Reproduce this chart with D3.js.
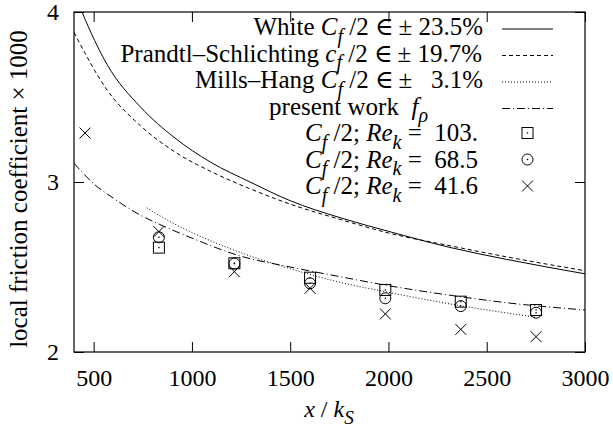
<!DOCTYPE html>
<html>
<head>
<meta charset="utf-8">
<script src="https://cdn.jsdelivr.net/npm/d3@7"></script>
<style>
  html, body { margin: 0; padding: 0; background: #fff; }
  svg text { font-family: "Liberation Serif", "DejaVu Serif", serif; white-space: pre; }
</style>
</head>
<body>
<svg id="chart" width="613" height="432"></svg>
<script>
// ---------------- data ----------------
const xTicks = [500, 1000, 1500, 2000, 2500, 3000];
const yTicks = [2, 3, 4];

// White C_f/2 (solid)
const whiteX = [420, 441, 569, 739, 909, 1096, 1296, 1500, 1754, 2000, 2313, 2600, 3000];
const whiteY = [4.06, 4.0, 3.69, 3.44, 3.263, 3.116, 3.0, 2.89, 2.79, 2.71, 2.615, 2.545, 2.46];

// Prandtl–Schlichting (dashed)
const prandtlX = [400, 569, 739, 909, 1100, 1296, 1500, 1754, 2000, 2313, 2600, 3000];
const prandtlY = [3.88, 3.54, 3.33, 3.18, 3.06, 2.96, 2.87, 2.78, 2.70, 2.625, 2.56, 2.478];

// Mills–Hang (dotted)
const millsX = [770, 900, 1000, 1245, 1500, 1754, 2000, 2368, 2755];
const millsY = [2.848, 2.76, 2.703, 2.586, 2.49, 2.41, 2.351, 2.272, 2.204];

// present work f_rho (dash-dot)
const presentX = [400, 500, 600, 736, 837, 1000, 1245, 1500, 1754, 2000, 2368, 2600, 3000];
const presentY = [3.11, 2.99, 2.905, 2.806, 2.75, 2.67, 2.565, 2.50, 2.443, 2.39, 2.325, 2.29, 2.247];

// measured points
const re103X = [832, 1216, 1601, 1984, 2368, 2751];
const re103Y = [2.614, 2.522, 2.437, 2.365, 2.296, 2.247];
const re685X = [832, 1216, 1601, 1984, 2368, 2751];
const re685Y = [2.675, 2.52, 2.404, 2.316, 2.27, 2.231];
const re416X = [456, 832, 1216, 1601, 1984, 2368, 2751];
const re416Y = [3.288, 2.708, 2.472, 2.375, 2.224, 2.133, 2.09];

const xLabel = [{t: "x", it: true}, {t: " / "}, {t: "k", it: true}, {t: "S", it: true, sub: true}];
const yLabel = "local friction coefficient × 1000";

const legendLines = [
  [{t: "White "}, {t: "C", it: true}, {t: "f", it: true, sub: true}, {t: " /2 ∈\u2009± 23.5%"}],
  [{t: "Prandtl–Schlichting "}, {t: "c", it: true}, {t: "f", it: true, sub: true}, {t: " /2 ∈\u2009± 19.7%"}],
  [{t: "Mills–Hang "}, {t: "C", it: true}, {t: "f", it: true, sub: true}, {t: " /2 ∈\u2009±   3.1%"}],
  [{t: "present work  "}, {t: "f", it: true}, {t: "ρ", it: true, sub: true}]
];
const legendPoints = [
  [{t: "C", it: true}, {t: "f", it: true, sub: true}, {t: " /2; "}, {t: "Re", it: true}, {t: "k", it: true, sub: true}, {t: " =  103."}],
  [{t: "C", it: true}, {t: "f", it: true, sub: true}, {t: " /2; "}, {t: "Re", it: true}, {t: "k", it: true, sub: true}, {t: " =  68.5"}],
  [{t: "C", it: true}, {t: "f", it: true, sub: true}, {t: " /2; "}, {t: "Re", it: true}, {t: "k", it: true, sub: true}, {t: " =  41.6"}]
];

// ---------------- layout ----------------
const L = 74, R = 585, T = 12, B = 352;
const FS = 24, LFS = 25, YFS = 25;
const svg = d3.select("#chart");
const x = d3.scaleLinear().domain([400, 3000]).range([L, R]);
const y = d3.scaleLinear().domain([2, 4]).range([B, T]);

svg.append("defs").append("clipPath").attr("id", "clip")
  .append("rect").attr("x", L).attr("y", T).attr("width", R - L).attr("height", B - T);

function rich(sel, parts, size) {
  let shifted = 0;
  parts.forEach(p => {
    const ts = sel.append("tspan").text(p.t);
    if (p.it) ts.attr("font-style", "italic");
    const want = p.sub ? size * 0.3 : 0;
    if (want !== shifted) { ts.attr("dy", want - shifted); shifted = want; }
    if (p.sub) ts.attr("font-size", size * 0.8);
  });
}

// axes (ticks inward, mirrored)
const tick = 10;
const gB = svg.append("g").attr("transform", `translate(0,${B})`)
  .call(d3.axisBottom(x).tickValues(xTicks).tickSize(-tick).tickFormat(d3.format("d")));
const gT = svg.append("g").attr("transform", `translate(0,${T})`)
  .call(d3.axisTop(x).tickValues(xTicks).tickSize(-tick).tickFormat(""));
const gL = svg.append("g").attr("transform", `translate(${L},0)`)
  .call(d3.axisLeft(y).tickValues(yTicks).tickSize(-tick).tickFormat(d3.format("d")));
const gR = svg.append("g").attr("transform", `translate(${R},0)`)
  .call(d3.axisRight(y).tickValues(yTicks).tickSize(-tick).tickFormat(""));
[gB, gT, gL, gR].forEach(g => {
  g.select(".domain").remove();
  g.selectAll(".tick line").attr("stroke", "#000").attr("stroke-width", 1);
  g.selectAll("text").attr("font-family", "Liberation Serif").attr("font-size", FS).attr("fill", "#000");
});
gB.selectAll("text").attr("y", 34).attr("dy", 0);
gL.selectAll("text").attr("x", -15).attr("dy", "0.33em");

// frame
svg.append("rect").attr("x", L).attr("y", T).attr("width", R - L).attr("height", B - T)
  .attr("fill", "none").attr("stroke", "#000").attr("stroke-width", 1.2);

// axis labels
const xl = svg.append("text").attr("x", 329).attr("y", 417)
  .attr("text-anchor", "middle").attr("font-size", FS);
rich(xl, xLabel, FS);
svg.append("text").attr("transform", `translate(27,189) rotate(-90)`)
  .attr("text-anchor", "middle").attr("font-size", YFS).text(yLabel);

// curves
const curves = [
  {xs: whiteX, ys: whiteY, dash: null},
  {xs: prandtlX, ys: prandtlY, dash: "4,3"},
  {xs: millsX, ys: millsY, dash: "1,2"},
  {xs: presentX, ys: presentY, dash: "8,3,1,3"}
];
const line = d3.line().x(d => x(d[0])).y(d => y(d[1])).curve(d3.curveMonotoneX);
const plot = svg.append("g").attr("clip-path", "url(#clip)");
curves.forEach(c => {
  plot.append("path").datum(c.xs.map((v, i) => [v, c.ys[i]]))
    .attr("d", line).attr("fill", "none").attr("stroke", "#000").attr("stroke-width", 1)
    .attr("stroke-dasharray", c.dash);
});

// markers
const ms = 5.5;
function square(g, cx, cy) {
  g.append("rect").attr("x", cx - ms).attr("y", cy - ms).attr("width", 2 * ms).attr("height", 2 * ms)
    .attr("fill", "none").attr("stroke", "#000").attr("stroke-width", 1);
  g.append("circle").attr("cx", cx).attr("cy", cy).attr("r", 0.8).attr("fill", "#000");
}
function circ(g, cx, cy) {
  g.append("circle").attr("cx", cx).attr("cy", cy).attr("r", ms)
    .attr("fill", "none").attr("stroke", "#000").attr("stroke-width", 1);
  g.append("circle").attr("cx", cx).attr("cy", cy).attr("r", 0.8).attr("fill", "#000");
}
function cross(g, cx, cy) {
  g.append("path").attr("d", `M${cx - ms},${cy - ms}L${cx + ms},${cy + ms}M${cx - ms},${cy + ms}L${cx + ms},${cy - ms}`)
    .attr("stroke", "#000").attr("stroke-width", 1).attr("fill", "none");
}
const mg = svg.append("g").attr("clip-path", "url(#clip)");
re103X.forEach((v, i) => square(mg, x(v), y(re103Y[i])));
re685X.forEach((v, i) => circ(mg, x(v), y(re685Y[i])));
re416X.forEach((v, i) => cross(mg, x(v), y(re416Y[i])));

// legend
const leg = svg.append("g");
const rowY0 = 27, rowDY = 26.5;
const textEnds = [483, 482, 483, 428];
const sx0 = 502, sx1 = 553;
legendLines.forEach((parts, i) => {
  const yy = rowY0 + i * rowDY;
  const t = leg.append("text").attr("x", textEnds[i]).attr("y", yy + 8).attr("text-anchor", "end").attr("font-size", LFS);
  rich(t, parts, LFS);
  leg.append("line").attr("x1", sx0).attr("x2", sx1).attr("y1", yy + 2).attr("y2", yy + 2)
    .attr("stroke", "#000").attr("stroke-width", 1).attr("stroke-dasharray", curves[i].dash);
});
const markFns = [square, circ, cross];
legendPoints.forEach((parts, j) => {
  const yy = rowY0 + (j + 4) * rowDY;
  const t = leg.append("text").attr("x", 478).attr("y", yy + 8).attr("text-anchor", "end").attr("font-size", LFS);
  rich(t, parts, LFS);
  markFns[j](leg, (sx0 + sx1) / 2, yy);
});
</script>
</body>
</html>
